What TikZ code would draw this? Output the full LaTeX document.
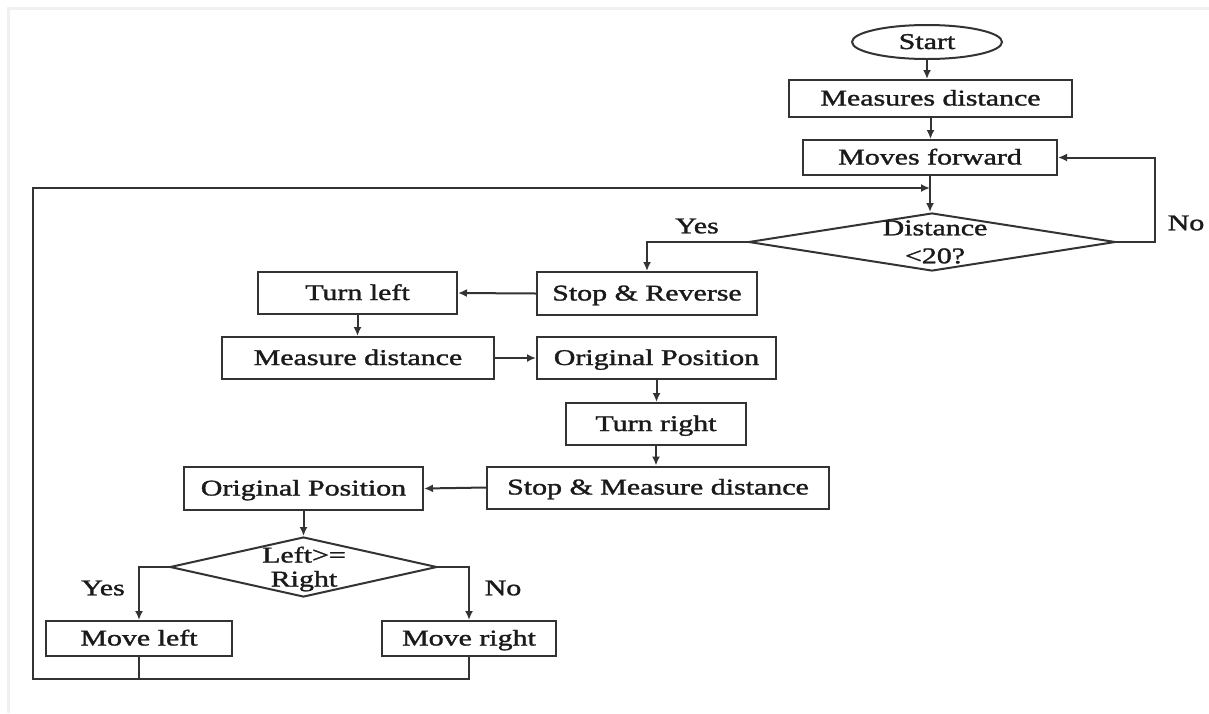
\documentclass[tikz,border=0pt]{standalone}
\usepackage{fontspec}
\setmainfont{Liberation Serif}[FakeBold=1.3]
\usepackage{graphicx}
\usetikzlibrary{shapes.geometric,arrows.meta}
\definecolor{ln}{HTML}{333333}
\definecolor{tx}{HTML}{1A1A1A}
\newcommand{\sx}[1]{\scalebox{1.33}[1]{#1}}
\begin{document}
\begin{tikzpicture}[x=1pt,y=-1pt,
  every node/.style={font=\fontsize{22.5}{28}\selectfont, text=tx},
  proc/.style={draw=ln, line width=2pt, inner sep=0pt, text height=17pt, text depth=3pt},
  dec/.style={draw=ln, line width=2pt, diamond, inner sep=0pt},
  term/.style={draw=ln, line width=2pt, ellipse, inner sep=0pt, text height=17pt, text depth=3pt},
  arr/.style={draw=ln, line width=2pt, -{Latex[length=9pt,width=8pt]}},
  conn/.style={draw=ln, line width=2pt},
  lbl/.style={inner sep=0pt}]
\useasboundingbox (0,0) rectangle (1209,713);
\draw[black!6, line width=3pt] (8,713) -- (8,8) -- (1209,8);

% nodes
\node[term, minimum width=150pt, minimum height=34pt] (start) at (927,42) {\sx{Start}};
\node[proc, minimum width=283pt, minimum height=37pt] (md1) at (930.5,98.5) {\sx{Measures distance}};
\node[proc, minimum width=254pt, minimum height=35pt] (mf) at (930,157.5) {\sx{Moves forward}};
\node[dec, minimum width=367pt, minimum height=58pt] (d1) at (932,242) {};
\node[align=center, inner sep=0pt] (d1t) at (935,242) {\sx{Distance}\\\sx{<20?}};
\node[proc, minimum width=220pt, minimum height=43pt] (sr) at (647,293.5) {\sx{Stop \& Reverse}};
\node[proc, minimum width=199pt, minimum height=42pt] (tl) at (357.5,293) {\sx{Turn left}};
\node[proc, minimum width=272pt, minimum height=42pt] (md2) at (358,358) {\sx{Measure distance}};
\node[proc, minimum width=239pt, minimum height=42pt] (op1) at (656.5,358) {\sx{Original Position}};
\node[proc, minimum width=180pt, minimum height=42pt] (tr) at (656,424) {\sx{Turn right}};
\node[proc, minimum width=342pt, minimum height=42pt] (smd) at (658,487.5) {\sx{Stop \& Measure distance}};
\node[proc, minimum width=239pt, minimum height=43pt] (op2) at (303.5,488.5) {\sx{Original Position}};
\node[dec, minimum width=267pt, minimum height=60pt] (d2) at (303.5,567) {};
\node[align=center, inner sep=0pt, font=\fontsize{22.5}{24}\selectfont] (d2t) at (304,569) {\sx{Left>=}\\\sx{Right}};
\node[proc, minimum width=186pt, minimum height=35pt] (ml) at (139,638.5) {\sx{Move left}};
\node[proc, minimum width=174pt, minimum height=35pt] (mr) at (469,638.5) {\sx{Move right}};

% labels
\node[lbl] (yes1) at (697,226) {\sx{Yes}};
\node[lbl] (no1) at (1186,223) {\sx{No}};
\node[lbl] (yes2) at (103,588) {\sx{Yes}};
\node[lbl] (no2) at (503,588) {\sx{No}};

% helper coordinates
\coordinate (j) at (930,188);
\coordinate (bl) at (33,679);
\coordinate (nr) at (1155,242);

% connectors
\draw[arr] (start.south) -- (start.south |- md1.north);
\draw[arr] (md1.south) -- (md1.south |- mf.north);
\draw[arr] (mf.south) -- (mf.south |- d1.north);
\draw[arr] (d1.east) -- (nr) |- (mf.east);
\draw[arr] (d1.west) -| (sr.north);
\draw[arr] (sr.west) -- (tl.east);
\draw[arr] (tl.south) -- (tl.south |- md2.north);
\draw[arr] (md2.east) -- (op1.west);
\draw[arr] (op1.south) -- (op1.south |- tr.north);
\draw[arr] (tr.south) -- (tr.south |- smd.north);
\draw[arr] (smd.west) -- (op2.east);
\draw[arr] (op2.south) -- (op2.south |- d2.north);
\draw[arr] (d2.west) -| (ml.north);
\draw[arr] (d2.east) -| (mr.north);
\draw[conn] (ml.south) -- (ml.south |- bl);
\draw[arr] (mr.south) |- (bl) |- (j);
\end{tikzpicture}
\end{document}
